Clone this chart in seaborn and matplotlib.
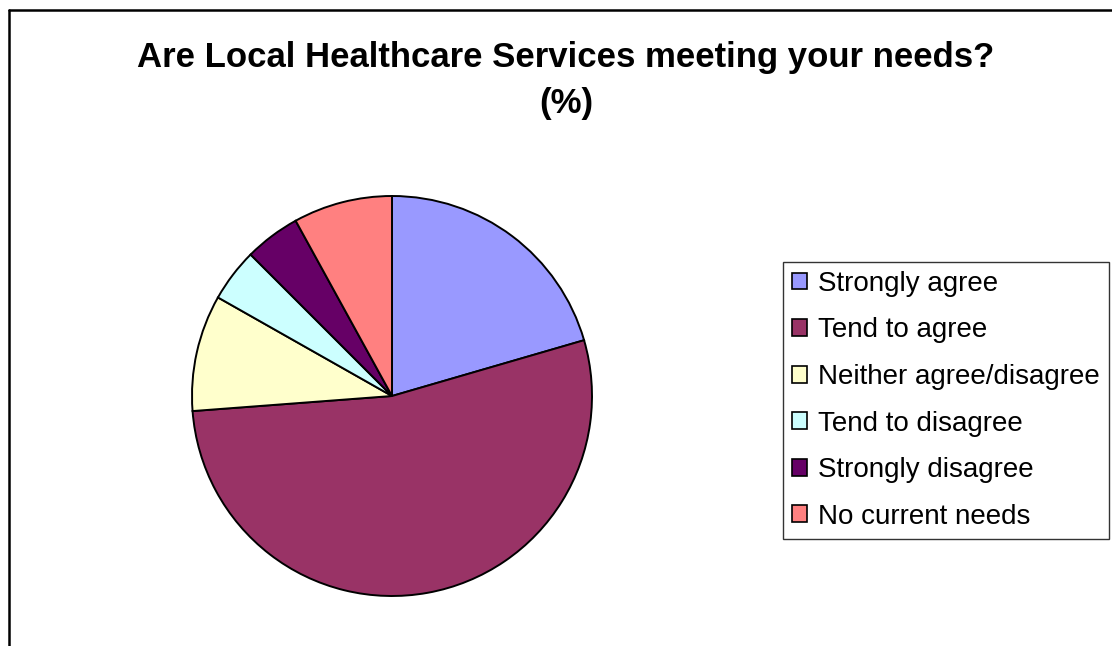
import matplotlib
matplotlib.use("Agg")
import matplotlib.pyplot as plt
import seaborn as sns
from matplotlib.lines import Line2D
from matplotlib.patches import Patch

# --- data ---
labels = ["Strongly agree", "Tend to agree", "Neither agree/disagree",
          "Tend to disagree", "Strongly disagree", "No current needs"]
values = [20.5, 53.3, 9.4, 4.3, 4.5, 8.0]
colors = ["#9999FF", "#993366", "#FFFFCC", "#CCFFFF", "#660066", "#FF8080"]

sns.set_theme(style="white")
plt.rcParams['font.family'] = ['Liberation Sans', 'DejaVu Sans']
plt.rcParams['text.color'] = 'black'

W, H = 1112, 646
fig = plt.figure(figsize=(W / 100, H / 100), dpi=100)
fig.patch.set_facecolor("white")

# pie area: centre (392, 396) px, radius ~200 px
cx, cy, r = 392, 396, 200
ax = fig.add_axes([(cx - r) / W, (H - cy - r) / H, 2 * r / W, 2 * r / H])
pal = sns.color_palette(colors)
ax.pie(values, colors=pal, startangle=90, counterclock=False,
       wedgeprops=dict(edgecolor="black", linewidth=1.4))
ax.set_xlim(-1, 1)
ax.set_ylim(-1, 1)
ax.set_aspect("equal")
ax.axis("off")

# title
fig.text(566 / W, 1 - 57 / H, "Are Local Healthcare Services meeting your needs?",
         ha="center", va="center", fontsize=25, fontweight="bold", color="black")
fig.text(566 / W, 1 - 104 / H, "(%)", ha="center", va="center",
         fontsize=25, fontweight="bold", color="black")

# legend
handles = [Patch(facecolor=c, edgecolor="black", linewidth=1.2) for c in colors]
leg = fig.legend(handles, labels, loc="upper left",
                 bbox_to_anchor=(783 / W, 1 - 262 / H),
                 fontsize=20, frameon=True, fancybox=False, edgecolor="black",
                 handlelength=0.55, handleheight=0.55, handletextpad=0.4,
                 labelspacing=0.74, borderpad=0.32, borderaxespad=0)
leg.get_frame().set_linewidth(1.0)
for t in leg.get_texts():
    t.set_color("black")

# outer chart border (left and top edges visible)
fig.add_artist(Line2D([9 / W, 9 / W], [0, 1 - 10 / H], color="black", lw=1.8,
                      transform=fig.transFigure))
fig.add_artist(Line2D([9 / W, 1], [1 - 10 / H, 1 - 10 / H], color="black", lw=1.8,
                      transform=fig.transFigure))

fig.savefig("out.png", dpi=100)
